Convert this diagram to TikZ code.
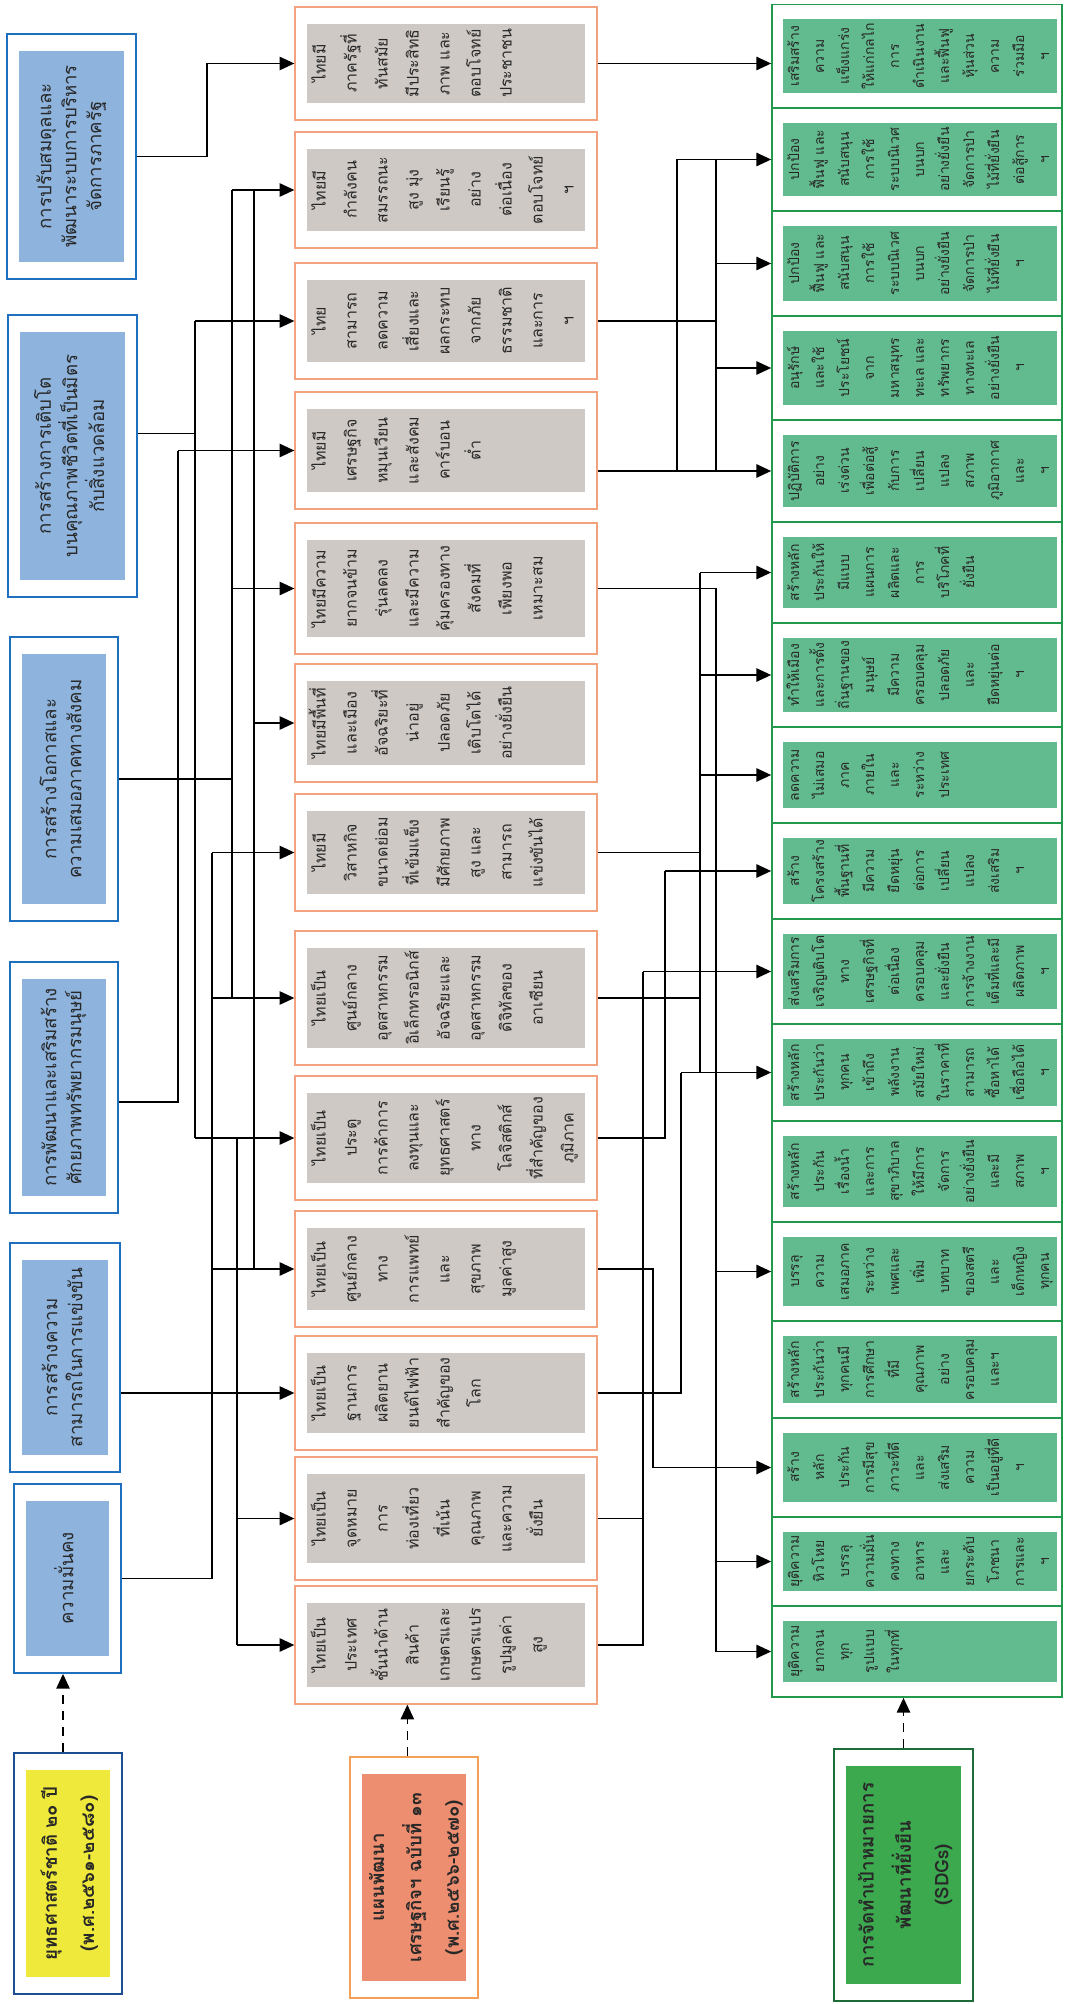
\documentclass[tikz,border=0pt]{standalone}
\usepackage{fontspec}
\usepackage{graphicx}
\usetikzlibrary{arrows.meta}
\newfontfamily\thaifont[Script=Thai]{Loma}

\definecolor{stratline}{RGB}{31,111,191}
\definecolor{stratfill}{RGB}{142,180,222}
\definecolor{yellowfill}{RGB}{238,233,58}
\definecolor{yellowline}{RGB}{27,79,145}
\definecolor{planfill}{RGB}{238,142,112}
\definecolor{planline}{RGB}{242,160,90}
\definecolor{mileline}{RGB}{242,162,126}
\definecolor{milefill}{RGB}{206,201,197}
\definecolor{sdgline}{RGB}{34,153,76}
\definecolor{sdgfill}{RGB}{98,187,142}
\definecolor{sdgtitlefill}{RGB}{60,169,79}
\definecolor{sdgtitleline}{RGB}{29,107,54}
\definecolor{textdark}{RGB}{40,40,40}

\newcommand{\rotlines}[1]{\rotatebox{90}{\begin{tabular}{@{}c@{}}#1\end{tabular}}}
\newcommand{\rotleft}[2]{\makebox[#1][l]{\rotlines{#2}}}

\begin{document}
\begin{tikzpicture}[x=0.75pt,y=-0.75pt,
    conn/.style={draw=black, line width=1.1pt},
    connarrow/.style={conn, -{Triangle[length=11pt,width=10pt]}},
    dashconn/.style={conn, dash pattern=on 7pt off 5pt, -{Triangle[length=11pt,width=10pt]}},
    boxsize/.style 2 args={minimum width=#1*0.75pt, minimum height=#2*0.75pt},
    insetfill/.style={path picture={\fill[#1] ([shift={(9pt,12.75pt)}]path picture bounding box.south west) rectangle ([shift={(-9pt,-12.75pt)}]path picture bounding box.north east);}},
    stratbox/.style={draw=stratline, line width=1.4pt, fill=white, insetfill=stratfill, inner sep=0pt, text=textdark, font=\thaifont\fontsize{14}{18.75}\selectfont},
    titlebox/.style={line width=1.4pt, fill=white, inner sep=0pt, text=textdark, font=\thaifont\bfseries\fontsize{14}{28}\selectfont},
    milebox/.style={draw=mileline, line width=1pt, fill=white, insetfill=milefill, inner sep=0pt, text=textdark, font=\thaifont\fontsize{12}{23.25}\selectfont, boxsize={302}{#1}},
    sdgcell/.style={draw=sdgline, line width=1.3pt, fill=white, inner sep=0pt, text=textdark, font=\thaifont\fontsize{10.5}{18.75}\selectfont, boxsize={290}{#1},
        path picture={\fill[sdgfill] ([shift={(8.25pt,11.25pt)}]path picture bounding box.south west) rectangle ([shift={(-3.75pt,-11.25pt)}]path picture bounding box.north east);}},
]
\path[use as bounding box, fill=white] (0,0) rectangle (1065,2004);

% strategies (left column)
\node[stratbox, boxsize={129}{245}] (b6) at (71.5,156.5) {\rotlines{การปรับสมดุลและ\\พัฒนาระบบการบริหาร\\จัดการภาครัฐ}};
\node[stratbox, boxsize={129}{282}] (b5) at (72.5,456) {\rotlines{การสร้างการเติบโต\\บนคุณภาพชีวิตที่เป็นมิตร\\กับสิ่งแวดล้อม}};
\node[stratbox, boxsize={108}{284}] (b4) at (64,779) {\rotlines{การสร้างโอกาสและ\\ความเสมอภาคทางสังคม}};
\node[stratbox, boxsize={108}{251}] (b3) at (64,1087.5) {\rotlines{การพัฒนาและเสริมสร้าง\\ศักยภาพทรัพยากรมนุษย์}};
\node[stratbox, boxsize={110}{229}] (b2) at (65,1357.5) {\rotlines{การสร้างความ\\สามารถในการแข่งขัน}};
\node[stratbox, boxsize={107}{189}] (b1) at (67.5,1578.5) {\rotlines{ความมั่นคง}};

% milestones (middle column)
\node[milebox=113] (g13) at (446,63.5) {\rotleft{213pt}{ไทยมี\\ภาครัฐที่\\ทันสมัย\\มีประสิทธิ\\ภาพ และ\\ตอบโจทย์\\ประชาชน}};
\node[milebox=116] (g12) at (446,190) {\rotleft{213pt}{ไทยมี\\กำลังคน\\สมรรถนะ\\สูง มุ่ง\\เรียนรู้\\อย่าง\\ต่อเนื่อง\\ตอบโจทย์\\ฯ}};
\node[milebox=116] (g11) at (446,321) {\rotleft{213pt}{ไทย\\สามารถ\\ลดความ\\เสี่ยงและ\\ผลกระทบ\\จากภัย\\ธรรมชาติ\\และการ\\ฯ}};
\node[milebox=117] (g10) at (446,450.5) {\rotleft{213pt}{ไทยมี\\เศรษฐกิจ\\หมุนเวียน\\และสังคม\\คาร์บอน\\ต่ำ}};
\node[milebox=131] (g9) at (446,588.5) {\rotleft{213pt}{ไทยมีความ\\ยากจนข้าม\\รุ่นลดลง\\และมีความ\\คุ้มครองทาง\\สังคมที่\\เพียงพอ\\เหมาะสม}};
\node[milebox=118] (g8) at (446,723) {\rotleft{213pt}{ไทยมีพื้นที่\\และเมือง\\อัจฉริยะที่\\น่าอยู่\\ปลอดภัย\\เติบโตได้\\อย่างยั่งยืน}};
\node[milebox=117] (g7) at (446,852.5) {\rotleft{213pt}{ไทยมี\\วิสาหกิจ\\ขนาดย่อม\\ที่เข้มแข็ง\\มีศักยภาพ\\สูง และ\\สามารถ\\แข่งขันได้}};
\node[milebox=134] (g6) at (446,998) {\rotleft{213pt}{ไทยเป็น\\ศูนย์กลาง\\อุตสาหกรรม\\อิเล็กทรอนิกส์\\อัจฉริยะและ\\อุตสาหกรรม\\ดิจิทัลของ\\อาเซียน}};
\node[milebox=124] (g5) at (446,1138) {\rotleft{213pt}{ไทยเป็น\\ประตู\\การค้าการ\\ลงทุนและ\\ยุทธศาสตร์\\ทาง\\โลจิสติกส์\\ที่สำคัญของ\\ภูมิภาค}};
\node[milebox=116] (g4) at (446,1269) {\rotleft{213pt}{ไทยเป็น\\ศูนย์กลาง\\ทาง\\การแพทย์\\และ\\สุขภาพ\\มูลค่าสูง}};
\node[milebox=114] (g3) at (446,1393) {\rotleft{213pt}{ไทยเป็น\\ฐานการ\\ผลิตยาน\\ยนต์ไฟฟ้า\\สำคัญของ\\โลก}};
\node[milebox=123] (g2) at (446,1518.5) {\rotleft{213pt}{ไทยเป็น\\จุดหมาย\\การ\\ท่องเที่ยว\\ที่เน้น\\คุณภาพ\\และความ\\ยั่งยืน}};
\node[milebox=118] (g1) at (446,1645) {\rotleft{213pt}{ไทยเป็น\\ประเทศ\\ชั้นนำด้าน\\สินค้า\\เกษตรและ\\เกษตรแปร\\รูปมูลค่า\\สูง}};

% SDGs (right column)
\node[sdgcell=103.5] (c17) at (917,56.25) {\rotleft{203pt}{เสริมสร้าง\\ความ\\แข็งแกร่ง\\ให้แก่กลไก\\การ\\ดำเนินงาน\\และฟื้นฟู\\หุ้นส่วน\\ความ\\ร่วมมือ\\ฯ}};
\node[sdgcell=103] (c16) at (917,159.5) {\rotleft{203pt}{ปกป้อง\\ฟื้นฟู และ\\สนับสนุน\\การใช้\\ระบบนิเวศ\\บนบก\\อย่างยั่งยืน\\จัดการป่า\\ไม้ที่ยั่งยืน\\ต่อสู้การ\\ฯ}};
\node[sdgcell=105] (c15) at (917,263.5) {\rotleft{203pt}{ปกป้อง\\ฟื้นฟู และ\\สนับสนุน\\การใช้\\ระบบนิเวศ\\บนบก\\อย่างยั่งยืน\\จัดการป่า\\ไม้ที่ยั่งยืน\\ฯ}};
\node[sdgcell=104] (c14) at (917,368) {\rotleft{203pt}{อนุรักษ์\\และใช้\\ประโยชน์\\จาก\\มหาสมุทร\\ทะเล และ\\ทรัพยากร\\ทางทะเล\\อย่างยั่งยืน\\ฯ}};
\node[sdgcell=102] (c13) at (917,471) {\rotleft{203pt}{ปฏิบัติการ\\อย่าง\\เร่งด่วน\\เพื่อต่อสู้\\กับการ\\เปลี่ยน\\แปลง\\สภาพ\\ภูมิอากาศ\\และ\\ฯ}};
\node[sdgcell=101] (c12) at (917,572.5) {\rotleft{203pt}{สร้างหลัก\\ประกันให้\\มีแบบ\\แผนการ\\ผลิตและ\\การ\\บริโภคที่\\ยั่งยืน}};
\node[sdgcell=104] (c11) at (917,675) {\rotleft{203pt}{ทำให้เมือง\\และการตั้ง\\ถิ่นฐานของ\\มนุษย์\\มีความ\\ครอบคลุม\\ปลอดภัย\\และ\\ยืดหยุ่นต่อ\\ฯ}};
\node[sdgcell=96] (c10) at (917,775) {\rotleft{203pt}{ลดความ\\ไม่เสมอ\\ภาค\\ภายใน\\และ\\ระหว่าง\\ประเทศ}};
\node[sdgcell=96] (c9) at (917,871) {\rotleft{203pt}{สร้าง\\โครงสร้าง\\พื้นฐานที่\\มีความ\\ยืดหยุ่น\\ต่อการ\\เปลี่ยน\\แปลง\\ส่งเสริม\\ฯ}};
\node[sdgcell=105] (c8) at (917,971.5) {\rotleft{203pt}{ส่งเสริมการ\\เจริญเติบโต\\ทาง\\เศรษฐกิจที่\\ต่อเนื่อง\\ครอบคลุม\\และยั่งยืน\\การจ้างงาน\\เต็มที่และมี\\ผลิตภาพ\\ฯ}};
\node[sdgcell=97] (c7) at (917,1072.5) {\rotleft{203pt}{สร้างหลัก\\ประกันว่า\\ทุกคน\\เข้าถึง\\พลังงาน\\สมัยใหม่\\ในราคาที่\\สามารถ\\ซื้อหาได้\\เชื่อถือได้\\ฯ}};
\node[sdgcell=101] (c6) at (917,1171.5) {\rotleft{203pt}{สร้างหลัก\\ประกัน\\เรื่องน้ำ\\และการ\\สุขาภิบาล\\ให้มีการ\\จัดการ\\อย่างยั่งยืน\\และมี\\สภาพ\\ฯ}};
\node[sdgcell=99] (c5) at (917,1271.5) {\rotleft{203pt}{บรรลุ\\ความ\\เสมอภาค\\ระหว่าง\\เพศและ\\เพิ่ม\\บทบาท\\ของสตรี\\และ\\เด็กหญิง\\ทุกคน}};
\node[sdgcell=97] (c4) at (917,1369.5) {\rotleft{203pt}{สร้างหลัก\\ประกันว่า\\ทุกคนมี\\การศึกษา\\ที่มี\\คุณภาพ\\อย่าง\\ครอบคลุม\\และฯ}};
\node[sdgcell=99] (c3) at (917,1467.5) {\rotleft{203pt}{สร้าง\\หลัก\\ประกัน\\การมีสุข\\ภาวะที่ดี\\และ\\ส่งเสริม\\ความ\\เป็นอยู่ที่ดี\\ฯ}};
\node[sdgcell=89] (c2) at (917,1561.5) {\rotleft{203pt}{ยุติความ\\หิวโหย\\บรรลุ\\ความมั่น\\คงทาง\\อาหาร\\และ\\ยกระดับ\\โภชนา\\การและ\\ฯ}};
\node[sdgcell=91] (c1) at (917,1651.5) {\rotleft{203pt}{ยุติความ\\ยากจน\\ทุก\\รูปแบบ\\ในทุกที่}};

% title boxes (bottom row)
\node[titlebox, draw=yellowline, insetfill=yellowfill, boxsize={108}{241}] (t1) at (68,1873.5) {\rotlines{ยุทธศาสตร์ชาติ ๒๐ ปี\\(พ.ศ.๒๕๖๑-๒๕๘๐)}};
\node[titlebox, draw=planline, insetfill=planfill, boxsize={128}{241}] (t2) at (414,1877.5) {\rotlines{แผนพัฒนา\\เศรษฐกิจฯ ฉบับที่ ๑๓\\(พ.ศ.๒๕๖๖-๒๕๗๐)}};
\node[titlebox, draw=sdgtitleline, insetfill=sdgtitlefill, boxsize={139}{252}] (t3) at (903.5,1875) {\rotlines{การจัดทำเป้าหมายการ\\พัฒนาที่ยั่งยืน\\(SDGs)}};

\draw[dashconn] ([xshift=-3.75pt]t1.north) -- ([xshift=-3.75pt]t1.north |- b1.south);
\draw[dashconn] ([xshift=-5pt]t2.north) -- ([xshift=-5pt]t2.north |- g1.south);
\draw[dashconn] (t3.north) -- (t3.north |- c1.south);

% bus lines
\coordinate (lbusA) at (178,0);
\coordinate (lbusB) at (195,0);
\coordinate (lbusC) at (207,0);
\coordinate (lbusD) at (212,0);
\coordinate (lbusE) at (232,0);
\coordinate (lbusF) at (237,0);
\coordinate (lbusG) at (254,0);
\coordinate (rbus1) at (643,0);
\coordinate (rbus2) at (653,0);
\coordinate (rbus3) at (665,0);
\coordinate (rbus4) at (677,0);
\coordinate (rbus5) at (681,0);
\coordinate (rbus6) at (700,0);
\coordinate (rbus7) at (716,0);

% strategies -> milestones
\draw[connarrow] (b6.east) -- (lbusC |- b6.east) -- (lbusC |- g13.west) -- (g13.west);
\draw[conn] ([yshift=17pt]b5.east) -| (lbusB |- g11.west);
\draw[conn] (lbusB |- g11.west) -- (lbusB |- g5.west);
\draw[connarrow] (lbusB |- g11.west) -- (g11.west);
\draw[connarrow] (lbusB |- g5.west) -- (g5.west);
\draw[conn] (lbusF |- g5.west) -- (lbusF |- g1.west);
\draw[connarrow] (lbusF |- g2.west) -- (g2.west);
\draw[connarrow] (lbusF |- g1.west) -- (g1.west);
\draw[conn] (b4.east) -- (lbusE |- b4.east);
\draw[conn] (lbusE |- g12.west) -- (lbusE |- g6.west);
\draw[conn] (lbusG |- g12.west) -- (lbusG |- g4.west);
\draw[connarrow] (lbusE |- g12.west) -- (g12.west);
\draw[connarrow] (lbusE |- g9.west) -- (g9.west);
\draw[connarrow] (lbusG |- g8.west) -- (g8.west);
\draw[conn] ([yshift=-11pt]b3.east) -| (lbusA |- g10.west);
\draw[connarrow] (lbusA |- g10.west) -- (g10.west);
\draw[connarrow] (b2.east |- g3.west) -- (g3.west);
\draw[conn] (b1.east) -- (lbusD |- b1.east) -- (lbusD |- g7.west);
\draw[connarrow] (lbusD |- g7.west) -- (g7.west);
\draw[connarrow] (lbusD |- g6.west) -- (g6.west);
\draw[connarrow] (lbusD |- g4.west) -- (g4.west);

% milestones -> SDGs
\draw[connarrow] (g13.east) -- (g13.east -| c17.west);
\draw[conn] (g11.east) -- (rbus7 |- g11.east);
\draw[conn] (rbus7 |- c16.west) -- (rbus7 |- c13.west);
\draw[conn] (rbus4 |- c16.west) -- (rbus4 |- c13.west);
\draw[connarrow] (rbus4 |- c16.west) -- (c16.west);
\draw[connarrow] (rbus7 |- c15.west) -- (c15.west);
\draw[connarrow] (rbus7 |- c14.west) -- (c14.west);
\draw[connarrow] (g10.east |- c13.west) -- (c13.west);
\draw[conn] (g9.east) -- (rbus7 |- g9.east) -- (rbus7 |- c1.west);
\draw[connarrow] (rbus7 |- c5.west) -- (c5.west);
\draw[connarrow] (rbus7 |- c2.west) -- (c2.west);
\draw[connarrow] (rbus7 |- c1.west) -- (c1.west);
\draw[conn] (rbus6 |- c12.west) -- (rbus6 |- c7.west);
\draw[conn] (g7.east) -- (rbus6 |- g7.east);
\draw[conn] (g6.east) -- (rbus6 |- g6.east);
\draw[connarrow] (rbus6 |- c12.west) -- (c12.west);
\draw[connarrow] (rbus6 |- c11.west) -- (c11.west);
\draw[connarrow] (rbus6 |- c10.west) -- (c10.west);
\draw[conn] (g5.east) -- (rbus3 |- g5.east) -- (rbus3 |- c9.west);
\draw[connarrow] (rbus3 |- c9.west) -- (c9.west);
\draw[conn] (g4.east) -- (rbus2 |- g4.east) -- (rbus2 |- c3.west);
\draw[connarrow] (rbus2 |- c3.west) -- (c3.west);
\draw[conn] (g3.east) -- (rbus5 |- g3.east) -- (rbus5 |- c7.west);
\draw[connarrow] (rbus5 |- c7.west) -- (c7.west);
\draw[conn] (g2.east) -- (rbus1 |- g2.east);
\draw[conn] (g1.east) -- (rbus1 |- g1.east) -- (rbus1 |- c8.west);
\draw[connarrow] (rbus1 |- c8.west) -- (c8.west);
\end{tikzpicture}
\end{document}
